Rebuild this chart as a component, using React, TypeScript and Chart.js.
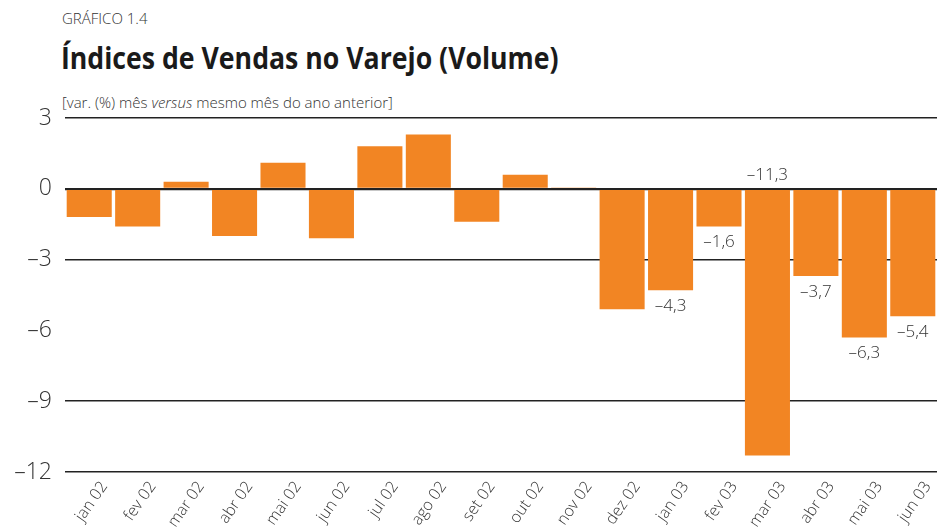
import React, { useEffect, useRef } from 'react';
import { Chart, registerables } from 'chart.js';

Chart.register(...registerables);

const categories = [
  'jan 02', 'fev 02', 'mar 02', 'abr 02', 'mai 02', 'jun 02', 'jul 02', 'ago 02', 'set 02',
  'out 02', 'nov 02', 'dez 02', 'jan 03', 'fev 03', 'mar 03', 'abr 03', 'mai 03', 'jun 03',
];
const values = [
  -1.2, -1.6, 0.3, -2.0, 1.1, -2.1, 1.8, 2.3, -1.4,
  0.6, 0.05, -5.1, -4.3, -1.6, -11.3, -3.7, -6.3, -5.4,
];
const showLabel = [
  false, false, false, false, false, false, false, false, false,
  false, false, false, true, true, true, true, true, true,
];
const yTickValues = [3, 0, -3, -6, -9, -12];
const gridlessTicks = [-6];

const BAR_COLOR = '#F28523';
const FONT = "'Open Sans', 'Noto Sans', sans-serif";

const fmt = (v: number) => (v < 0 ? '\u2013' : '') + Math.abs(v).toFixed(1).replace('.', ',');

const labelPlugin = {
  id: 'valueLabels',
  afterDatasetsDraw(chart: any) {
    const ctx = chart.ctx;
    const meta = chart.getDatasetMeta(0);
    const yScale = chart.scales.y;
    ctx.save();
    ctx.font = `300 17px ${FONT}`;
    ctx.fillStyle = '#333333';
    ctx.textAlign = 'center';
    ctx.textBaseline = 'middle';
    meta.data.forEach((bar: any, i: number) => {
      if (!showLabel[i]) return;
      const v = values[i];
      let y: number;
      if (v < -10) {
        y = yScale.getPixelForValue(0) - 14;
      } else {
        y = bar.y + 16;
      }
      ctx.fillText(fmt(v), bar.x, y);
    });
    ctx.restore();
  },
};

export default function App() {
  const canvasRef = useRef<HTMLCanvasElement | null>(null);

  useEffect(() => {
    document.body.style.margin = '0';
    const canvas = canvasRef.current;
    if (!canvas) return;
    const chart = new Chart(canvas, {
      type: 'bar',
      data: {
        labels: categories,
        datasets: [
          {
            data: values,
            backgroundColor: BAR_COLOR,
            borderWidth: 0,
            barPercentage: 0.93,
            categoryPercentage: 1.0,
          },
        ],
      },
      options: {
        animation: false,
        responsive: false,
        maintainAspectRatio: false,
        layout: { padding: { top: 118, right: 0, left: 0, bottom: 0 } },
        plugins: {
          legend: { display: false },
          tooltip: { enabled: false },
        },
        scales: {
          x: {
            grid: { display: false, drawTicks: false },
            border: { display: false },
            ticks: {
              autoSkip: false,
              minRotation: 55,
              maxRotation: 55,
              labelOffset: 15,
              padding: 6,
              color: '#333333',
              font: { family: FONT, size: 16, weight: '300' as any },
            },
            afterFit: (s: any) => {
              s.height = 60;
            },
          },
          y: {
            min: -12,
            max: 3,
            afterBuildTicks: (s: any) => {
              s.ticks = yTickValues.map((v) => ({ value: v }));
            },
            grid: {
              color: (c: any) =>
                c.tick && gridlessTicks.includes(c.tick.value) ? 'rgba(0,0,0,0)' : '#222222',
              lineWidth: (c: any) => (c.tick && c.tick.value === 0 ? 2.2 : 1.6),
              drawTicks: false,
            },
            border: { display: false },
            ticks: {
              padding: 13,
              color: '#333333',
              font: { family: FONT, size: 23, weight: '300' as any },
              callback: (v: any) => (Number(v) < 0 ? '\u2013' + Math.abs(Number(v)) : String(v)),
            },
            afterFit: (s: any) => {
              s.width = 65;
            },
          },
        },
      },
      plugins: [labelPlugin],
    });
    return () => chart.destroy();
  }, []);

  return (
    <div style={{ position: 'relative', width: 937, height: 532, background: '#fff', overflow: 'hidden' }}>
      <div
        style={{
          position: 'absolute',
          left: 62,
          top: 8,
          fontFamily: FONT,
          fontWeight: 300,
          fontSize: 15,
          color: '#333',
          lineHeight: '20px',
          whiteSpace: 'nowrap',
        }}
      >
        GRÁFICO 1.4
      </div>
      <div
        style={{
          position: 'absolute',
          left: 61,
          top: 37,
          fontFamily: FONT,
          fontWeight: 700,
          fontSize: 31,
          color: '#1a1a1a',
          lineHeight: '40px',
          whiteSpace: 'nowrap',
          transform: 'scaleX(0.86)',
          transformOrigin: 'left top',
        }}
      >
        Índices de Vendas no Varejo (Volume)
      </div>
      <div
        style={{
          position: 'absolute',
          left: 62,
          top: 92,
          fontFamily: FONT,
          fontWeight: 300,
          fontSize: 15,
          color: '#333',
          lineHeight: '20px',
          whiteSpace: 'nowrap',
        }}
      >
        [var. (%) mês <i>versus</i> mesmo mês do ano anterior]
      </div>
      <canvas ref={canvasRef} width={937} height={532} style={{ position: 'absolute', left: 0, top: 0 }} />
    </div>
  );
}
